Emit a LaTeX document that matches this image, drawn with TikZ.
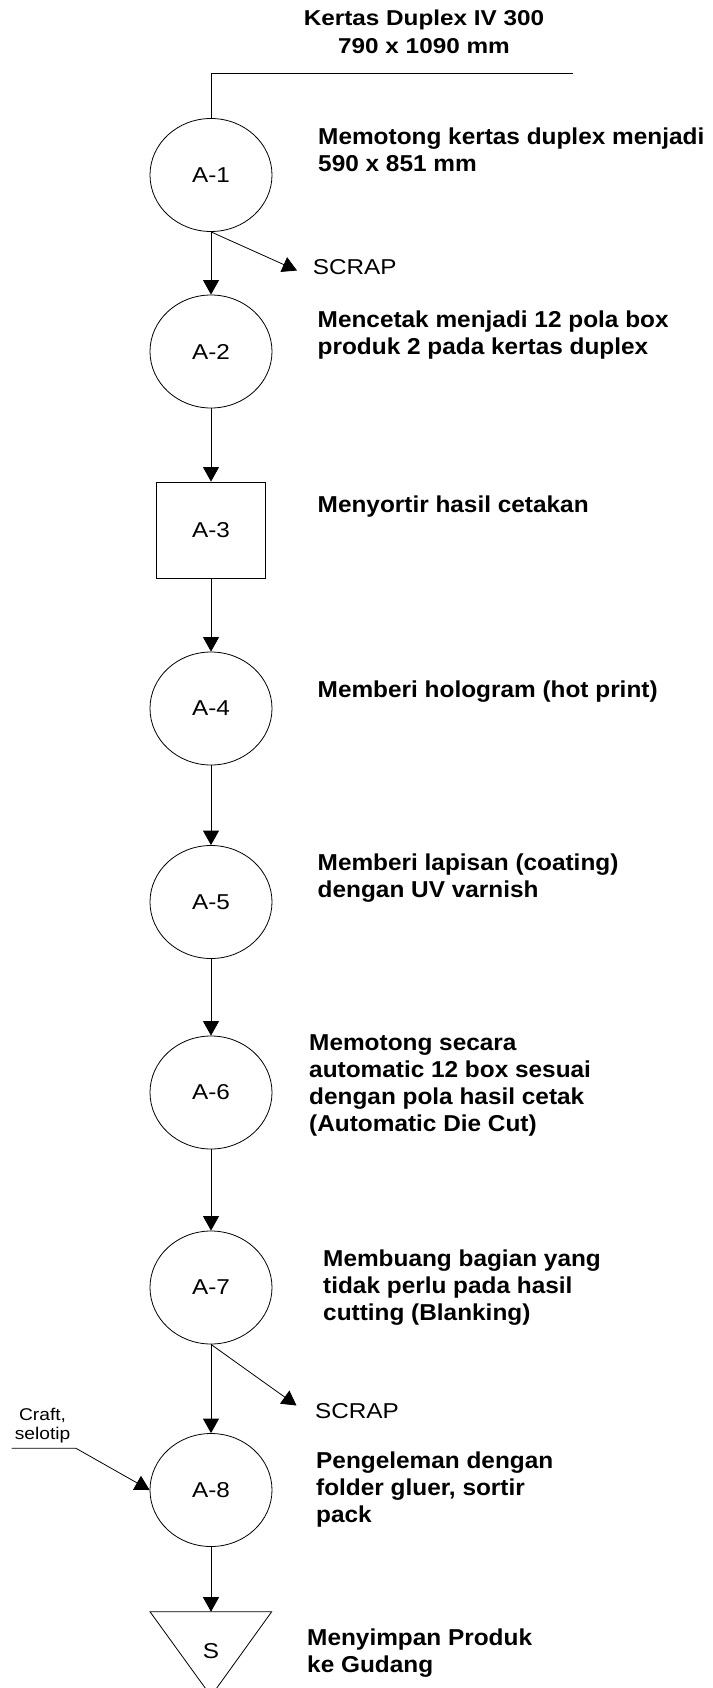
\documentclass[tikz,border=0pt]{standalone}
\usepackage{fontspec}
\setmainfont{Liberation Sans}[FakeStretch=1.13]
\newfontfamily\descfont{Liberation Sans}[FakeStretch=1.06]
\usetikzlibrary{shapes.geometric,arrows.meta}
\begin{document}
\begin{tikzpicture}[x=1pt,y=-1pt,
  proc/.style={ellipse, draw, line width=0.8pt, minimum width=122pt, minimum height=113pt,
    inner sep=0pt, font=\fontsize{21.5}{25}\selectfont},
  insp/.style={rectangle, draw, line width=0.8pt, minimum width=109pt, minimum height=96pt,
    inner sep=0pt, font=\fontsize{21.5}{25}\selectfont},
  desc/.style={anchor=base west, align=left, inner sep=0pt,
    font=\descfont\bfseries\fontsize{23}{26.8}\selectfont},
  waste/.style={anchor=west, inner sep=0pt, font=\fontsize{21.5}{25}\selectfont},
  flow/.style={-{Triangle[length=14.5pt,width=16pt]}, line width=0.8pt},
  plain/.style={line width=0.8pt}
]
\useasboundingbox (0,0) rectangle (712,1688);

% raw material
\node[font=\bfseries\fontsize{21.5}{27.3}\selectfont, align=center, inner sep=0pt, anchor=base]
  (title) at (424,53.3) {Kertas Duplex IV 300\\790 x 1090 mm};
\coordinate (inEnd) at (573,73);

% process steps
\node[proc] (A1) at (211,175) {A-1};
\node[proc] (A2) at (211,351.5) {A-2};
\node[insp] (A3) at (211,530) {A-3};
\node[proc] (A4) at (211,708.5) {A-4};
\node[proc] (A5) at (211,902) {A-5};
\node[proc] (A6) at (211,1092.5) {A-6};
\node[proc] (A7) at (211,1287.5) {A-7};
\node[proc] (A8) at (211,1490) {A-8};

% storage
\node[font=\fontsize{21.5}{25}\selectfont, inner sep=0pt] (S) at (211,1651) {S};
\coordinate (Stop) at (211,1611.7);
\draw[plain] (150,1611.7) -- (271.7,1611.7) -- (211,1696) -- cycle;

% descriptions (placed by the baseline of their last line)
\node[desc] (d1) at (318,171.5) {Memotong kertas duplex menjadi\\590 x 851 mm};
\node[desc] (d2) at (317.5,354) {Mencetak menjadi 12 pola box\\produk 2 pada kertas duplex};
\node[desc] (d3) at (317.5,512) {Menyortir hasil cetakan};
\node[desc] (d4) at (317.5,697) {Memberi hologram (hot print)};
\node[desc] (d5) at (317.5,897) {Memberi lapisan (coating)\\dengan UV varnish};
\node[desc] (d6) at (309,1131) {Memotong secara\\automatic 12 box sesuai\\dengan pola hasil cetak\\(Automatic Die Cut)};
\node[desc] (d7) at (323,1320) {Membuang bagian yang\\tidak perlu pada hasil\\cutting (Blanking)};
\node[desc] (d8) at (316,1522) {Pengeleman dengan\\folder gluer, sortir\\pack};
\node[desc] (d9) at (307,1672) {Menyimpan Produk\\ke Gudang};

% scrap outputs
\node[waste] (scrap1) at (312.7,267.5) {SCRAP};
\coordinate (scrap1tip) at (297,270.5);
\node[waste] (scrap2) at (315,1411) {SCRAP};
\coordinate (scrap2tip) at (296.5,1405.5);

% auxiliary material
\node[font=\fontsize{17}{18.5}\selectfont, align=center, inner sep=0pt, anchor=base]
  (craft) at (42.6,1439) {Craft,\\selotip};
\coordinate (craftA) at (11.7,1448.3);
\coordinate (craftB) at (76,1448.3);

% connectors
\draw[plain] (inEnd) -| (A1.north);
\draw[flow] (A1) -- (A2);
\draw[flow] (A1.south) -- (scrap1tip);
\draw[flow] (A2) -- (A3);
\draw[flow] (A3) -- (A4);
\draw[flow] (A4) -- (A5);
\draw[flow] (A5) -- (A6);
\draw[flow] (A6) -- (A7);
\draw[flow] (A7) -- (A8);
\draw[flow] (A7.south) -- (scrap2tip);
\draw[flow] (craftA) -- (craftB) -- (A8.west);
\draw[flow] (A8) -- (Stop);
\end{tikzpicture}
\end{document}
